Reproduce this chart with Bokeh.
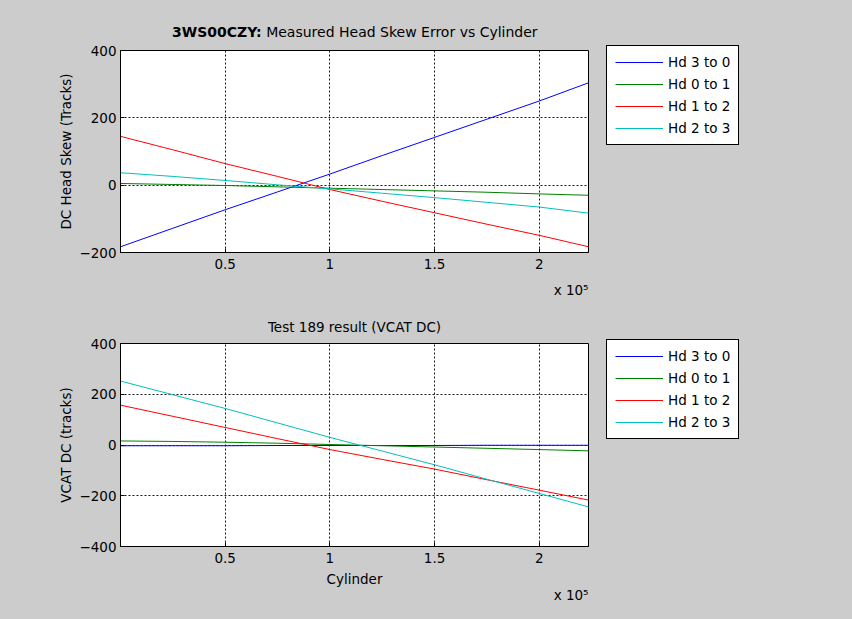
from bokeh.plotting import figure
from bokeh.layouts import column
from bokeh.models import Range1d, FixedTicker, Legend, LegendItem, Title, Div
from bokeh.embed import file_html
from bokeh.resources import INLINE

# ---- data ----
cylinder = [0, 25000, 50000, 75000, 100000, 125000, 150000, 175000, 200000, 223500]
series_names = ["Hd 3 to 0", "Hd 0 to 1", "Hd 1 to 2", "Hd 2 to 3"]

skew_hd30 = [-183, -128, -73, -20, 33, 88, 142, 196, 250, 304]
skew_hd01 = [5, 2, -1, -5, -9, -13, -17, -21, -26, -30]
skew_hd12 = [145, 105, 64, 26, -13, -48, -82, -116, -149, -183]
skew_hd23 = [37, 26, 14, 1, -11, -24, -37, -51, -65, -83]

vcat_hd30 = [-3, -3, -3, -2, -2, -2, -2, -1, -1, -1]
vcat_hd01 = [16, 14, 11, 7, 2, -3, -8, -13, -18, -23]
vcat_hd12 = [157, 113, 69, 25, -18, -57, -95, -137, -178, -217]
vcat_hd23 = [252, 198, 144, 87, 30, -24, -78, -135, -191, -244]

x_ticks = [50000, 100000, 150000, 200000]
x_tick_labels = ["0.5", "1", "1.5", "2"]
top_y_ticks = [-200, 0, 200, 400]
bottom_y_ticks = [-400, -200, 0, 200, 400]

title_bold = "3WS00CZY:"
title_rest = "Measured Head Skew Error vs Cylinder"
title_bottom = "Test 189 result (VCAT DC)"
multiplier = "x 10\u2075"

colors = ["#0000ff", "#008000", "#ff0000", "#00bfbf"]
FONT = "DejaVu Sans"
FS = "13.5px"
W = 852
FRAME_L = 120
FRAME_W = 468
BG = "#cccccc"


def make_fig(frame_h, top, bottom, ylo, yhi, yticks, ylabel, xlabel, series):
    p = figure(frame_width=FRAME_W, frame_height=frame_h,
               x_range=Range1d(0, 223500), y_range=Range1d(ylo, yhi),
               output_backend="svg", toolbar_location=None,
               min_border_left=FRAME_L, min_border_right=W - FRAME_L - FRAME_W,
               min_border_top=top, min_border_bottom=bottom,
               background_fill_color="white", border_fill_color=BG)
    p.outline_line_color = "black"
    p.outline_line_alpha = 1
    for ax in (p.xaxis[0], p.yaxis[0]):
        ax.axis_line_color = "black"
        ax.major_tick_line_color = "black"
        ax.major_tick_in = 4
        ax.major_tick_out = 0
        ax.minor_tick_line_color = None
        ax.major_label_text_font = FONT
        ax.major_label_text_font_size = FS
        ax.major_label_text_color = "black"
        ax.axis_label_text_font = FONT
        ax.axis_label_text_font_size = FS
        ax.axis_label_text_font_style = "normal"
        ax.axis_label_text_color = "black"
    p.xaxis.ticker = FixedTicker(ticks=x_ticks)
    p.xaxis.major_label_overrides = {t: l for t, l in zip(x_ticks, x_tick_labels)}
    p.xaxis.major_label_standoff = 6
    p.yaxis.ticker = FixedTicker(ticks=yticks)
    p.yaxis.major_label_standoff = 4
    p.yaxis.axis_label = ylabel
    p.yaxis.axis_label_standoff = 2
    if xlabel:
        p.xaxis.axis_label = xlabel
        p.xaxis.axis_label_standoff = 5
    for g in (p.xgrid[0], p.ygrid[0]):
        g.grid_line_color = "black"
        g.grid_line_dash = "2 2"
        g.grid_line_alpha = 0.9
    items = []
    for name, ys, c in zip(series_names, series, colors):
        r = p.line(cylinder, ys, line_color=c, line_width=1)
        items.append(LegendItem(label=name, renderers=[r]))
    leg = Legend(items=items, location=(18, 107))
    leg.border_line_color = "black"
    leg.border_line_alpha = 1
    leg.background_fill_color = "white"
    leg.background_fill_alpha = 1
    leg.label_text_font = FONT
    leg.label_text_font_size = FS
    leg.label_text_color = "black"
    leg.glyph_width = 48
    leg.glyph_height = 16
    leg.label_height = 16
    leg.label_standoff = 5
    leg.padding = 8
    leg.spacing = 6
    leg.margin = 0
    p.add_layout(leg, "right")
    return p


def style_title(t, bold=False, size=FS):
    t.text_font = FONT
    t.text_font_size = size
    t.text_font_style = "bold" if bold else "normal"
    t.text_color = "black"


head = Div(
    text=(f'<div style="padding-left:172px;padding-top:24px;font-family:\'{FONT}\';'
          f'font-size:14px;line-height:16px;white-space:nowrap;color:#000;">'
          f'<b>{title_bold}</b> {title_rest}</div>'),
    width=W, height=40, styles={"background-color": BG, "margin": "0"})

p1 = make_fig(202, 10, 56, -200, 400, top_y_ticks, "DC Head Skew (Tracks)", None,
              [skew_hd30, skew_hd01, skew_hd12, skew_hd23])
m1 = Title(text=multiplier, align="right", offset=0, standoff=17)
style_title(m1)
p1.add_layout(m1, "below")

p2 = make_fig(203, 34, 73, -400, 400, bottom_y_ticks, "VCAT DC (tracks)", "Cylinder",
              [vcat_hd30, vcat_hd01, vcat_hd12, vcat_hd23])
p2.title.text = title_bottom
style_title(p2.title)
p2.title.align = "center"
p2.title.standoff = 17
m2 = Title(text=multiplier, align="right", offset=0, standoff=-27)
style_title(m2)
p2.add_layout(m2, "below")

layout = column(head, p1, p2, spacing=0)
layout.styles = {"background-color": BG}
open("out.html", "w").write(file_html(layout, INLINE))
